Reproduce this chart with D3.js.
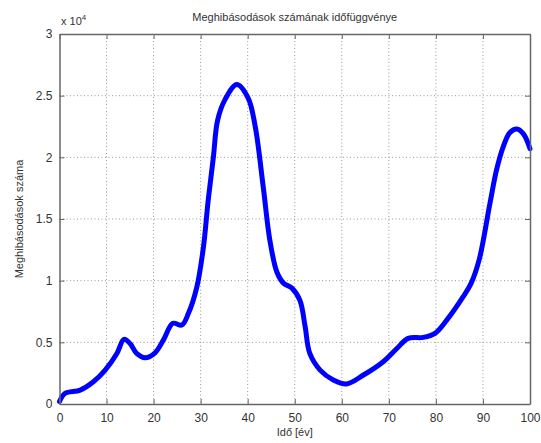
<!DOCTYPE html>
<html><head><meta charset="utf-8">
<script src="https://cdn.jsdelivr.net/npm/d3@7"></script>
<style>body{margin:0;background:#fff;}svg{display:block;}text{font-family:"Liberation Sans",Arial,sans-serif;}</style>
</head><body>
<script>
const xTicks = [0,10,20,30,40,50,60,70,80,90,100];
const yTicks = [0,0.5,1,1.5,2,2.5,3];
const yTickLabels = ["0","0.5","1","1.5","2","2.5","3"];
const years = [0,1.2,4.4,7.2,9.7,12.2,13.7,15,16.4,18.2,20.3,22.1,24.1,26,27.4,29.2,30.6,31.6,32.7,33.6,35.2,37.7,40.1,41.6,43.3,44.7,46.2,47.6,49.4,51.1,52.2,53.2,55.4,58.2,61,64.6,68.8,71.7,74.1,77.3,79.8,82.3,85.8,87.5,89.2,91.5,92.9,94.3,95.7,97.2,98.6,100];
const failures = [0.02,0.087,0.113,0.18,0.275,0.41,0.524,0.49,0.41,0.375,0.415,0.52,0.654,0.64,0.735,0.95,1.275,1.65,2.0,2.3,2.47,2.59,2.48,2.25,1.76,1.33,1.07,0.98,0.94,0.84,0.63,0.41,0.275,0.195,0.162,0.235,0.343,0.45,0.532,0.54,0.573,0.68,0.87,0.98,1.17,1.63,1.9,2.085,2.2,2.23,2.19,2.07];

const W=541,H=443;
const m={l:59.5,r:530,t:34,b:404};
const svg=d3.select("body").append("svg").attr("width",W).attr("height",H);
const x=d3.scaleLinear().domain([0,100]).range([m.l,m.r]);
const y=d3.scaleLinear().domain([0,3]).range([m.b,m.t]);
const gridC="#999", axC="#666", txtC="#333";

// grid
svg.append("g").selectAll("line").data(xTicks.slice(1,-1)).join("line")
 .attr("x1",d=>x(d)).attr("x2",d=>x(d)).attr("y1",m.t).attr("y2",m.b)
 .attr("stroke",gridC).attr("stroke-width",1).attr("stroke-dasharray","1,2.5");
svg.append("g").selectAll("line").data(yTicks.slice(1,-1)).join("line")
 .attr("y1",d=>y(d)).attr("y2",d=>y(d)).attr("x1",m.l).attr("x2",m.r)
 .attr("stroke",gridC).attr("stroke-width",1).attr("stroke-dasharray","1,2.5");

// line
const line=d3.line().x((d,i)=>x(years[i])).y(d=>y(d)).curve(d3.curveCatmullRom.alpha(0.5));
svg.append("path").datum(failures).attr("d",line).attr("fill","none")
 .attr("stroke","#0000ff").attr("stroke-width",5).attr("stroke-linejoin","round").attr("stroke-linecap","round");

// axes
const ax=svg.append("g").attr("transform",`translate(0,${m.b})`).call(d3.axisBottom(x).tickValues(xTicks).tickSizeInner(-5).tickSizeOuter(0).tickPadding(9));
const axT=svg.append("g").attr("transform",`translate(0,${m.t})`).call(d3.axisTop(x).tickValues(xTicks).tickSizeInner(-5).tickSizeOuter(0).tickFormat(""));
const ay=svg.append("g").attr("transform",`translate(${m.l},0)`).call(d3.axisLeft(y).tickValues(yTicks).tickFormat((d,i)=>yTickLabels[i]).tickSizeInner(-5).tickSizeOuter(0).tickPadding(7));
const ayR=svg.append("g").attr("transform",`translate(${m.r},0)`).call(d3.axisRight(y).tickValues(yTicks).tickSizeInner(-5).tickSizeOuter(0).tickFormat(""));
[ax,axT,ay,ayR].forEach(g=>{
  g.select(".domain").attr("stroke",axC).attr("stroke-width",1.5);
  g.selectAll(".tick line").attr("stroke",axC);
  g.selectAll(".tick text").attr("fill",txtC).attr("font-size",12).attr("font-family","'Liberation Sans',Arial,sans-serif");
});

// texts
svg.append("text").attr("x",(m.l+m.r)/2).attr("y",21).attr("text-anchor","middle").attr("font-size",11).attr("fill",txtC).text("Meghibásodások számának időfüggvénye");
const ex=svg.append("text").attr("x",61).attr("y",25).attr("font-size",11).attr("fill",txtC);
ex.append("tspan").text("x 10");
ex.append("tspan").attr("dy",-5).attr("font-size",8).text("4");
svg.append("text").attr("x",(m.l+m.r)/2).attr("y",436).attr("text-anchor","middle").attr("font-size",11).attr("fill",txtC).text("Idő [év]");
svg.append("text").attr("transform",`translate(23,${(m.t+m.b)/2}) rotate(-90)`).attr("text-anchor","middle").attr("font-size",11).attr("fill",txtC).text("Meghibásodások száma");
</script>
</body></html>
